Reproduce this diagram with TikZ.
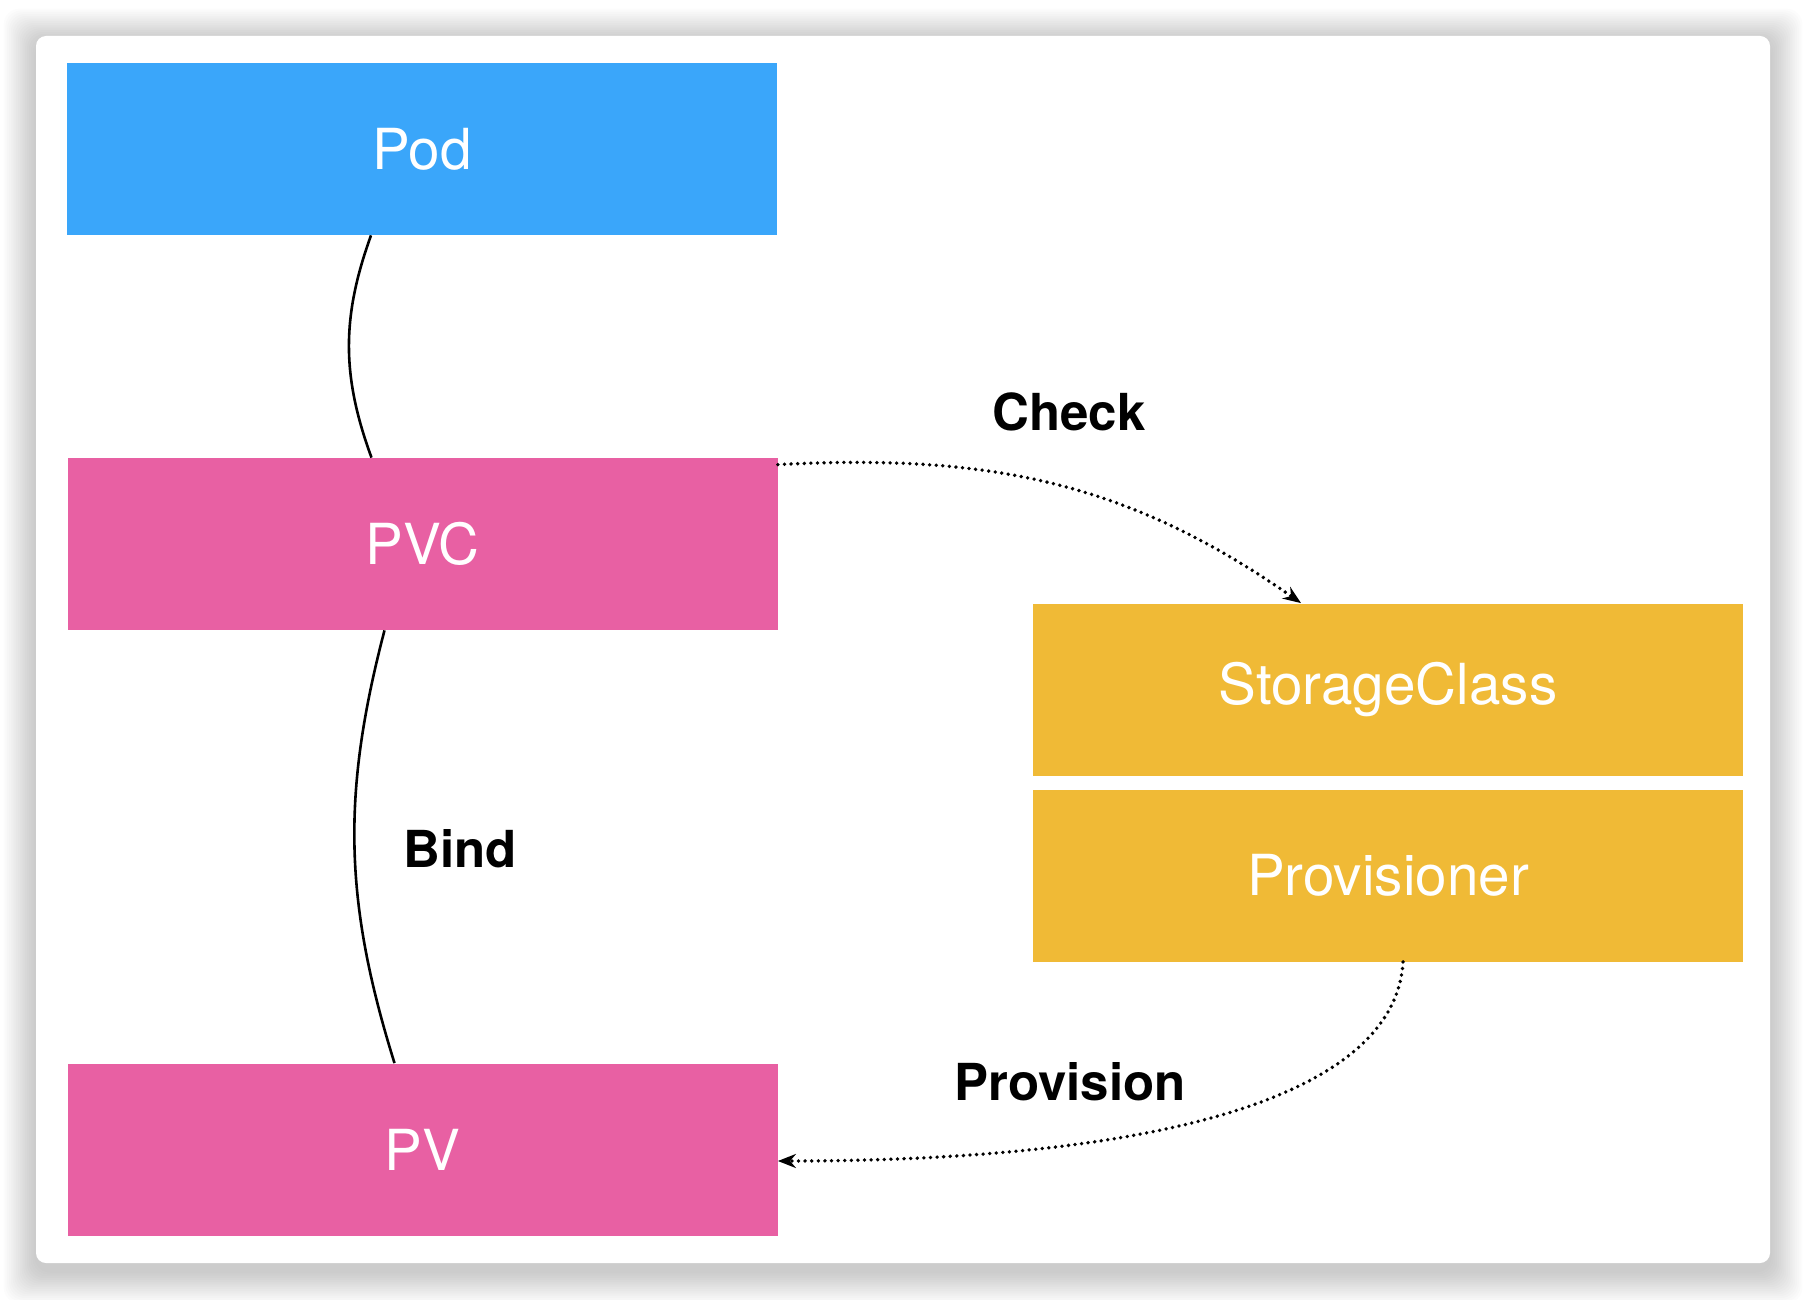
\documentclass[tikz,border=0pt]{standalone}
\usepackage{fontspec}
\setmainfont{TeX Gyre Heros}
\usepackage{xcolor}
\usetikzlibrary{arrows.meta}

\definecolor{podblue}{RGB}{58,166,250}
\definecolor{pvcpink}{RGB}{232,96,163}
\definecolor{scyellow}{RGB}{240,186,54}

\begin{document}
\begin{tikzpicture}[x=0.5pt, y=-0.5pt,
    box/.style={rectangle, minimum width=355pt, minimum height=86pt, inner sep=0pt, text=white, font=\fontsize{28.3}{34}\selectfont},
    lbl/.style={font=\fontsize{25.5}{30}\selectfont\bfseries},
    link/.style={line width=1.3pt},
    dots/.style={line width=1.9pt, line cap=round, dash pattern=on 0pt off 3.3pt, -{Stealth[length=9pt, width=7pt]}}]
    \useasboundingbox (0,0) rectangle (1806,1300);
    % Card with shadow
    \foreach \s in {1,...,18}
        \fill[black, opacity=0.012, rounded corners=8pt] (36-\s*1.8,36-\s*1.8+5) rectangle (1770+\s*1.8,1263+\s*1.8+8);
    \fill[white, rounded corners=5pt] (36,36) rectangle (1770,1263);

    % Boxes
    \node[box, fill=podblue] (pod) at (422,149) {Pod};
    \node[box, fill=pvcpink] (pvc) at (422.5,544) {PVC};
    \node[box, fill=pvcpink] (pv) at (422.5,1149.5) {PV};
    \node[box, fill=scyellow] (sc) at (1388,689.5) {StorageClass};
    \node[box, fill=scyellow] (prov) at (1388,875.5) {Provisioner};

    % Labels
    \node[lbl] (check) at (1069,412) {Check};
    \node[lbl] (bind) at (460,849) {Bind};
    \node[lbl] (provision) at (1070,1082) {Provision};

    % Arrows
    \draw[link] ([xshift=-25.5pt]pod.south) to[bend right=20] ([xshift=-25.5pt]pvc.north);
    \draw[link] ([xshift=-19pt]pvc.south) to[bend right=16] ([xshift=-14pt]pv.north);
    \draw[dots] ([yshift=-3.5pt]pvc.north east) to[out=3, in=145] ([xshift=-43.5pt]sc.north);
    \draw[dots] ([xshift=7.5pt]prov.south) .. controls +(-4pt,-69pt) and +(185pt,0pt) .. ([yshift=-5.75pt]pv.east);
\end{tikzpicture}
\end{document}
